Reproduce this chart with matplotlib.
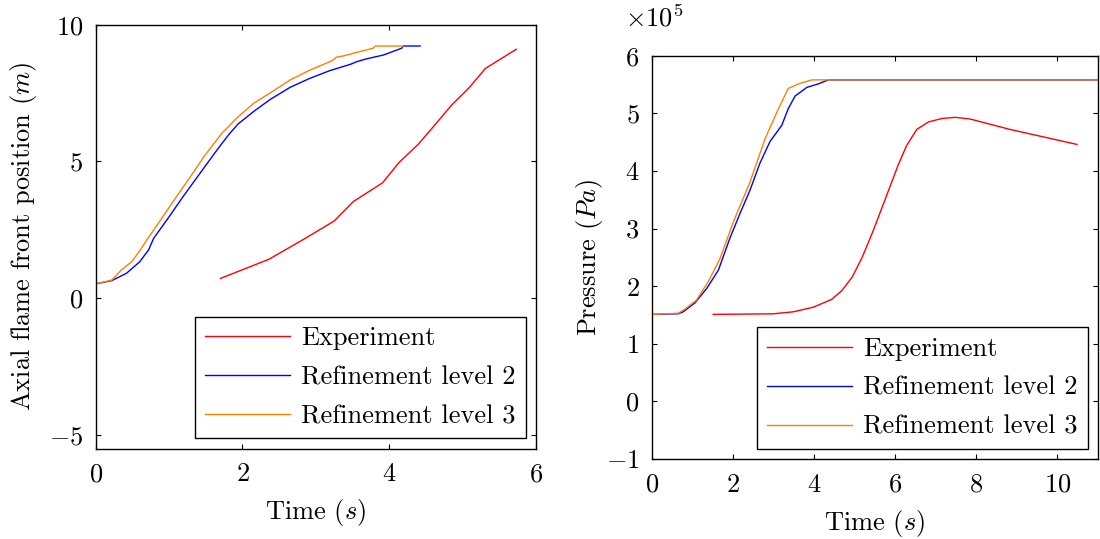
import numpy as np
import matplotlib
matplotlib.use('Agg')
import matplotlib.pyplot as plt

# Flame front position (left panel)
exp_pos_t = [1.70, 2.36, 2.82, 3.25, 3.51, 3.91, 4.13, 4.40, 4.62, 4.85, 5.09, 5.31, 5.73]
exp_pos = [0.72, 1.42, 2.13, 2.82, 3.53, 4.22, 4.95, 5.64, 6.33, 7.06, 7.70, 8.40, 9.10]

ref2_pos_t = [0.0, 0.22, 0.42, 0.60, 0.72, 0.79, 0.97, 1.19, 1.42, 1.67, 1.81, 1.94,
              2.15, 2.38, 2.65, 2.92, 3.19, 3.47, 3.56, 3.69, 3.92, 4.17, 4.19, 4.42]
ref2_pos = [0.52, 0.64, 0.91, 1.33, 1.76, 2.19, 2.86, 3.71, 4.56, 5.48, 5.97, 6.37,
            6.82, 7.27, 7.71, 8.04, 8.32, 8.55, 8.65, 8.75, 8.89, 9.14, 9.22, 9.22]

ref3_pos_t = [0.0, 0.22, 0.35, 0.49, 0.60, 0.72, 0.90, 1.10, 1.29, 1.49, 1.72, 1.92,
              2.15, 2.38, 2.65, 2.92, 3.22, 3.28, 3.38, 3.56, 3.78, 3.81, 4.19]
ref3_pos = [0.52, 0.66, 1.03, 1.33, 1.73, 2.22, 2.92, 3.71, 4.44, 5.23, 6.03, 6.58,
            7.12, 7.51, 7.98, 8.34, 8.68, 8.81, 8.86, 8.99, 9.14, 9.22, 9.22]

# Pressure (right panel), in units of 1e5 Pa
exp_p_t = [1.51, 2.99, 3.49, 3.98, 4.43, 4.68, 4.94, 5.19, 5.46, 5.79, 6.07, 6.28,
           6.53, 6.82, 7.15, 7.48, 7.85, 8.34, 8.83, 10.48]
exp_p = [1.51, 1.52, 1.555, 1.635, 1.77, 1.92, 2.16, 2.51, 2.97, 3.58, 4.10, 4.44,
         4.72, 4.85, 4.91, 4.93, 4.90, 4.81, 4.72, 4.46]

ref2_p_t = [0.0, 0.65, 0.77, 1.06, 1.35, 1.64, 1.92, 2.17, 2.42, 2.66, 2.91, 3.20,
            3.36, 3.53, 3.82, 4.10, 4.35, 11.0]
ref2_p = [1.51, 1.52, 1.555, 1.71, 1.96, 2.28, 2.83, 3.26, 3.67, 4.13, 4.51, 4.79,
          5.08, 5.30, 5.45, 5.51, 5.58, 5.58]

ref3_p_t = [0.0, 0.65, 0.81, 1.10, 1.39, 1.68, 2.01, 2.42, 2.79, 3.12, 3.36, 3.61,
            3.94, 11.0]
ref3_p = [1.51, 1.53, 1.60, 1.76, 2.08, 2.48, 3.12, 3.81, 4.56, 5.08, 5.43, 5.51,
          5.58, 5.58]

labels = ['Experiment', 'Refinement level 2', 'Refinement level 3']
colors = ['#ff0000', '#0000ff', '#ff8000']

plt.rcParams['font.family'] = 'serif'
plt.rcParams['font.serif'] = ['cmr10']
plt.rcParams['mathtext.fontset'] = 'cm'
plt.rcParams['axes.formatter.use_mathtext'] = True
plt.rcParams['font.size'] = 19

fig = plt.figure(figsize=(11, 5.39), dpi=100)
ax1 = fig.add_axes([0.087, 0.1679, 0.4003, 0.7863])
ax2 = fig.add_axes([0.5927, 0.1484, 0.4055, 0.7483])


def style(ax):
    ax.tick_params(direction='in', top=True, right=True, length=3.6, width=0.8)
    ax.tick_params(axis='x', pad=10)
    ax.tick_params(axis='y', pad=9)
    for s in ax.spines.values():
        s.set_linewidth(1.0)
    leg = ax.legend(loc='lower right', borderaxespad=0.38, fancybox=False,
                    edgecolor='black', framealpha=1, handlelength=3.2,
                    handletextpad=0.45, labelspacing=0.58, borderpad=0.38)
    leg.get_frame().set_linewidth(1.0)


ax1.plot(exp_pos_t, exp_pos, color=colors[0], lw=1.0, label=labels[0])
ax1.plot(ref2_pos_t, ref2_pos, color=colors[1], lw=1.0, label=labels[1])
ax1.plot(ref3_pos_t, ref3_pos, color=colors[2], lw=1.0, label=labels[2])
ax1.set_xlim(0, 6)
ax1.set_ylim(-5.5, 10)
ax1.set_xticks([0, 2, 4, 6])
ax1.set_yticks([-5, 0, 5, 10])
ax1.set_xlabel('Time $(s)$', labelpad=8)
ax1.set_ylabel('Axial flame front position $(m)$', labelpad=7)
style(ax1)

ax2.plot(exp_p_t, np.array(exp_p) * 1e5, color=colors[0], lw=1.0, label=labels[0])
ax2.plot(ref2_p_t, np.array(ref2_p) * 1e5, color=colors[1], lw=1.0, label=labels[1])
ax2.plot(ref3_p_t, np.array(ref3_p) * 1e5, color=colors[2], lw=1.0, label=labels[2])
ax2.set_xlim(0, 11)
ax2.set_ylim(-1e5, 6e5)
ax2.set_xticks([0, 2, 4, 6, 8, 10])
ax2.set_yticks(np.arange(-1, 7) * 1e5)
ax2.ticklabel_format(style='sci', axis='y', scilimits=(0, 0))
ax2.yaxis.get_offset_text().set_visible(False)
ax2.text(-0.06, 1.06, r'$\times10^5$', transform=ax2.transAxes, ha='left', va='bottom')
ax2.set_xlabel('Time $(s)$', labelpad=8)
ax2.set_ylabel('Pressure $(Pa)$', labelpad=0.5)
style(ax2)

fig.savefig('out.png', dpi=100)
